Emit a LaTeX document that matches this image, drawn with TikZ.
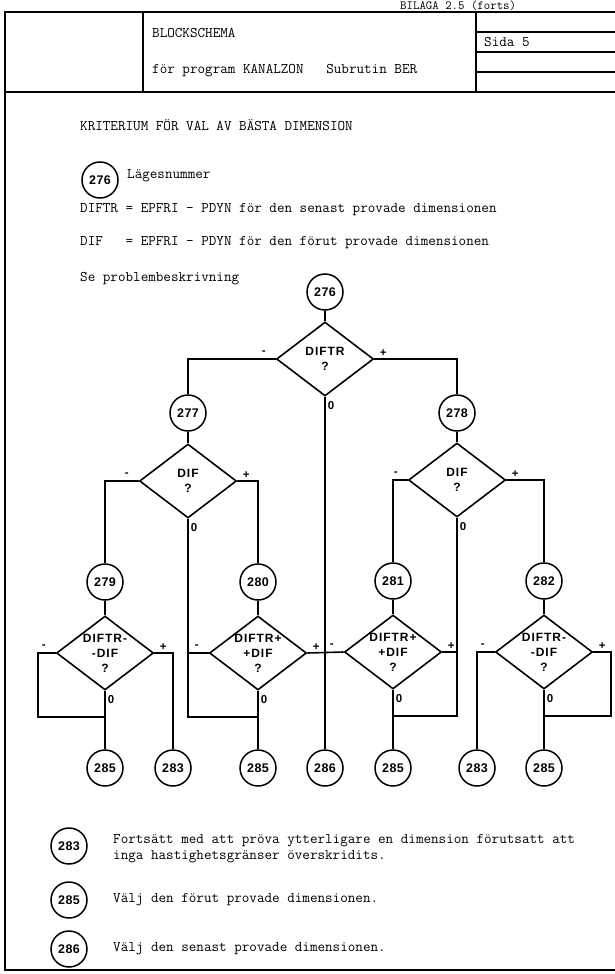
\documentclass[tikz,border=0pt]{standalone}
\usepackage{fontspec}
\newfontfamily\chartfont[LetterSpace=8]{Liberation Sans}
\newfontfamily\digitfont[LetterSpace=3]{Liberation Sans}
\usetikzlibrary{shapes.geometric}

\tikzset{
  frame/.style={line width=1.3pt},
  flow/.style={line width=1.6pt},
  lagesnr/.style={circle, draw, line width=1.5pt, minimum size=36pt, inner sep=0pt,
    font=\digitfont\bfseries\fontsize{12.5}{12.5}\selectfont},
  dtext/.style={align=center, inner sep=0pt,
    font=\chartfont\bfseries\fontsize{12}{15}\selectfont},
  decision/.style={diamond, draw, line width=1.6pt, minimum width=97pt,
    minimum height=74pt, inner sep=0pt, label={[dtext]center:#1}},
  branchlbl/.style={inner sep=0pt, font=\chartfont\bfseries\fontsize{11.5}{11.5}\selectfont},
  typetext/.style={anchor=west, inner sep=0pt, align=left,
    font=\ttfamily\fontsize{14.7}{16}\selectfont},
}

\begin{document}
\begin{tikzpicture}[x=1pt, y=-1pt]
    \useasboundingbox (0,0) rectangle (615,974);
    \clip (0,0) rectangle (615,974);

    % Header
    \draw[frame] (5,12) rectangle (640,92);
    \draw[frame] (143,12) -- (143,92);
    \draw[frame] (476,12) -- (476,92);
    \foreach \y in {32,52,72}
        \draw[frame] (476,\y) -- (640,\y);
    \node[typetext, anchor=base west, font=\ttfamily\fontsize{12.5}{14}\selectfont]
        (bilaga) at (400,9.5) {BILAGA 2.5 (forts)};
    \node[typetext] (rubrik) at (152,33) {BLOCKSCHEMA};
    \node[typetext] (program) at (152,71) {för program KANALZON\ \ \ Subrutin BER};
    \node[typetext] (sida) at (484,42) {Sida 5};

    % Page frame
    \draw[frame] (5,92) -- (5,970) -- (640,970);

    % Introduction
    \node[typetext] (kriterium) at (80,125) {KRITERIUM FÖR VAL AV BÄSTA DIMENSION};
    \node[lagesnr] (n276L) at (100,180) {276};
    \node[typetext] (lagesnummer) at (127,176) {Lägesnummer};
    \node[typetext] (diftrdef) at (80,210) {DIFTR = EPFRI - PDYN för den senast provade dimensionen};
    \node[typetext] (difdef) at (80,243) {DIF\ \ \ = EPFRI - PDYN för den förut provade dimensionen};
    \node[typetext] (se) at (80,279) {Se problembeskrivning};

    % Flowchart
    \node[lagesnr] (n276) at (325,292) {276};
    \node[decision={DIFTR\\?}] (d1) at (325,359) {};
    \node[lagesnr] (n277) at (188,413) {277};
    \node[lagesnr] (n278) at (457,413) {278};
    \node[decision={DIF\\?}] (d2) at (188,481) {};
    \node[decision={DIF\\?}] (d3) at (457,480) {};
    \node[lagesnr] (n279) at (105,582) {279};
    \node[lagesnr] (n280) at (258,582) {280};
    \node[lagesnr] (n281) at (393,581) {281};
    \node[lagesnr] (n282) at (544,581) {282};
    \node[decision={DIFTR-\\-DIF\\?}] (d4) at (105,653) {};
    \node[decision={DIFTR+\\+DIF\\?}] (d5) at (258,653) {};
    \node[decision={DIFTR+\\+DIF\\?}] (d6) at (393,652) {};
    \node[decision={DIFTR-\\-DIF\\?}] (d7) at (544,652) {};
    \node[lagesnr] (n285a) at (105,768) {285};
    \node[lagesnr] (n283a) at (173,768) {283};
    \node[lagesnr] (n285b) at (258,768) {285};
    \node[lagesnr] (n286) at (325,768) {286};
    \node[lagesnr] (n285c) at (393,768) {285};
    \node[lagesnr] (n283b) at (477,768) {283};
    \node[lagesnr] (n285d) at (544,768) {285};

    % Branch signs
    \foreach \d in {d1,d2,d3,d4,d5,d6,d7}{
        \node[branchlbl] (\d-minus) at ([shift={(-12,-6)}]\d.west) {-};
        \node[branchlbl] (\d-plus) at ([shift={(9,-6)}]\d.east) {+};
        \node[branchlbl] (\d-zero) at ([shift={(6,9)}]\d.south) {0};
    }

    % Junctions
    \coordinate (j4) at (105,717);
    \coordinate (loop4) at (38,717);
    \coordinate (j5) at (258,717);
    \coordinate (j6) at (393,716);
    \coordinate (j7) at (544,716);
    \coordinate (loop7) at (611,716);

    % Connectors
    \draw[flow] (n276) -- (d1);
    \draw[flow] (d1.west) -| (n277);
    \draw[flow] (d1.east) -| (n278);
    \draw[flow] (d1.south) -- (n286);
    \draw[flow] (n277) -- (d2);
    \draw[flow] (d2.west) -| (n279);
    \draw[flow] (d2.east) -| (n280);
    \draw[flow] (n278) -- (d3);
    \draw[flow] (d3.west) -| (n281);
    \draw[flow] (d3.east) -| (n282);
    \draw[flow] (n279) -- (d4);
    \draw[flow] (n280) -- (d5);
    \draw[flow] (n281) -- (d6);
    \draw[flow] (n282) -- (d7);

    \draw[flow] (d4.west) -| (loop4) -- (j4);
    \draw[flow] (d4.south) -- (n285a);
    \draw[flow] (d4.east) -| (n283a);

    \draw[flow] (d2.south) |- (j5);
    \draw[flow] (d5.west) -- (d5.west -| d2.south);
    \draw[flow] (d5.south) -- (n285b);
    \draw[flow] (d5.east) -- (d6.west);

    \draw[flow] (d3.south) |- (j6);
    \draw[flow] (d6.east) -- (d6.east -| d3.south);
    \draw[flow] (d6.south) -- (n285c);

    \draw[flow] (d7.west) -| (n283b);
    \draw[flow] (d7.east) -| (loop7) -- (j7);
    \draw[flow] (d7.south) -- (n285d);

    % Legend
    \node[lagesnr] (n283L) at (69,846) {283};
    \node[typetext] (text283) at (113,849) {Fortsätt med att pröva ytterligare en dimension förutsatt att\\inga hastighetsgränser överskridits.};
    \node[lagesnr] (n285L) at (69,900) {285};
    \node[typetext] (text285) at (113,900) {Välj den förut provade dimensionen.};
    \node[lagesnr] (n286L) at (69,949) {286};
    \node[typetext] (text286) at (113,949) {Välj den senast provade dimensionen.};

\end{tikzpicture}
\end{document}
